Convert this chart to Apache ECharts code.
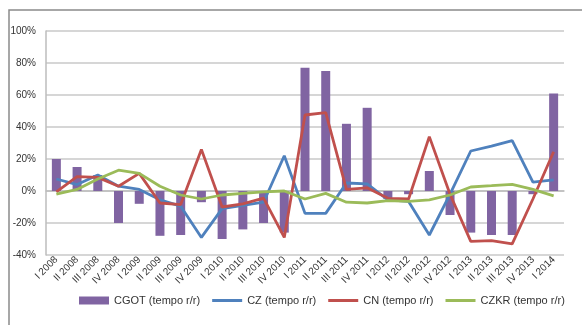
<!DOCTYPE html>
<html><head><meta charset="utf-8">
<script src="https://cdn.jsdelivr.net/npm/echarts@6/dist/echarts.min.js"></script>
<style>html,body{margin:0;padding:0;background:#fff}#c{width:582px;height:325px}</style>
</head><body><div id="c"></div>
<script>
const categories = ["I 2008","II 2008","III 2008","IV 2008","I 2009","II 2009","III 2009","IV 2009","I 2010","II 2010","III 2010","IV 2010","I 2011","II 2011","III 2011","IV 2011","I 2012","II 2012","III 2012","IV 2012","I 2013","II 2013","III 2013","IV 2013","I 2014"];
const cgot = [20, 15, 10, -20, -8, -28, -27.5, -7, -30, -24, -20, -26, 77, 75, 42, 52, -5, -2, 12.5, -15, -26, -27.5, -27.5, -2, 61];
const cz = [7.5, 4, 10, 3, 1, -5.5, -9.5, -29, -11, -9, -7, 22, -14, -14, 5, 4.5, -5.5, -6.5, -27.5, -2, 25, 28, 31.5, 5.5, 7];
const cn = [-0.5, 9, 8.5, 3, 11, -7.5, -8.5, 26, -10, -8, -4.5, -29, 47.5, 49, 1, 2, -4.6, -5, 34, -2, -31.5, -31, -33, -5, 24.5];
const czkr = [-2, 1, 7.5, 13, 11, 3, -2.5, -5, -2.5, -1.5, -0.5, 0, -5, -1.5, -7, -7.5, -6, -6.5, -5.5, -2.5, 2.5, 3.3, 4.2, 1, -3];
const seriesNames = ["CGOT (tempo r/r)","CZ (tempo r/r)","CN (tempo r/r)","CZKR (tempo r/r)"];
const yTicks = {min: -40, max: 100, interval: 20};

const chart = echarts.init(document.getElementById('c'), null, {renderer: 'canvas'});
const lineIcon = 'path://M0,0L30,0L30,3L0,3Z';
const lineS = (name, data, color) => ({
  name, type: 'line', data, symbol: 'none', smooth: false,
  lineStyle: {color, width: 2.8}, itemStyle: {color}
});
chart.setOption({
  animation: false,
  backgroundColor: '#fff',
  textStyle: {fontFamily: 'Liberation Sans, Arial, sans-serif'},
  graphic: [{type: 'rect', shape: {x: 9, y: 10, width: 620, height: 400},
    style: {fill: 'none', stroke: '#8a8a8a', lineWidth: 1.5}, silent: true, z: -1}],
  grid: {left: 46, right: 18, top: 31, bottom: 70, containLabel: false},
  legend: {
    left: 74, top: 290, itemWidth: 30, itemHeight: 8, itemGap: 12,
    symbolKeepAspect: true,
    textStyle: {fontSize: 11, color: '#333'},
    data: [
      {name: seriesNames[0], icon: 'rect'},
      {name: seriesNames[1], icon: lineIcon},
      {name: seriesNames[2], icon: lineIcon},
      {name: seriesNames[3], icon: lineIcon}
    ]
  },
  xAxis: {
    type: 'category', data: categories,
    axisLine: {onZero: true, lineStyle: {color: '#bdbdbd', width: 1.5}},
    axisTick: {show: false},
    axisLabel: {rotate: 45, fontSize: 10, color: '#333', interval: 0, margin: 3},
    splitLine: {show: false}
  },
  yAxis: {
    type: 'value', min: yTicks.min, max: yTicks.max, interval: yTicks.interval,
    axisLine: {show: true, lineStyle: {color: '#bdbdbd', width: 1.5}},
    axisTick: {show: false},
    axisLabel: {formatter: '{value}%', fontSize: 10, color: '#333', margin: 10},
    splitLine: {lineStyle: {color: '#c8c8c8', width: 1.5}}
  },
  series: [
    {name: seriesNames[0], type: 'bar', data: cgot, barWidth: 9,
      itemStyle: {color: '#8064A2'}},
    lineS(seriesNames[1], cz, '#4F81BD'),
    lineS(seriesNames[2], cn, '#C0504D'),
    lineS(seriesNames[3], czkr, '#9BBB59')
  ]
});
</script></body></html>
